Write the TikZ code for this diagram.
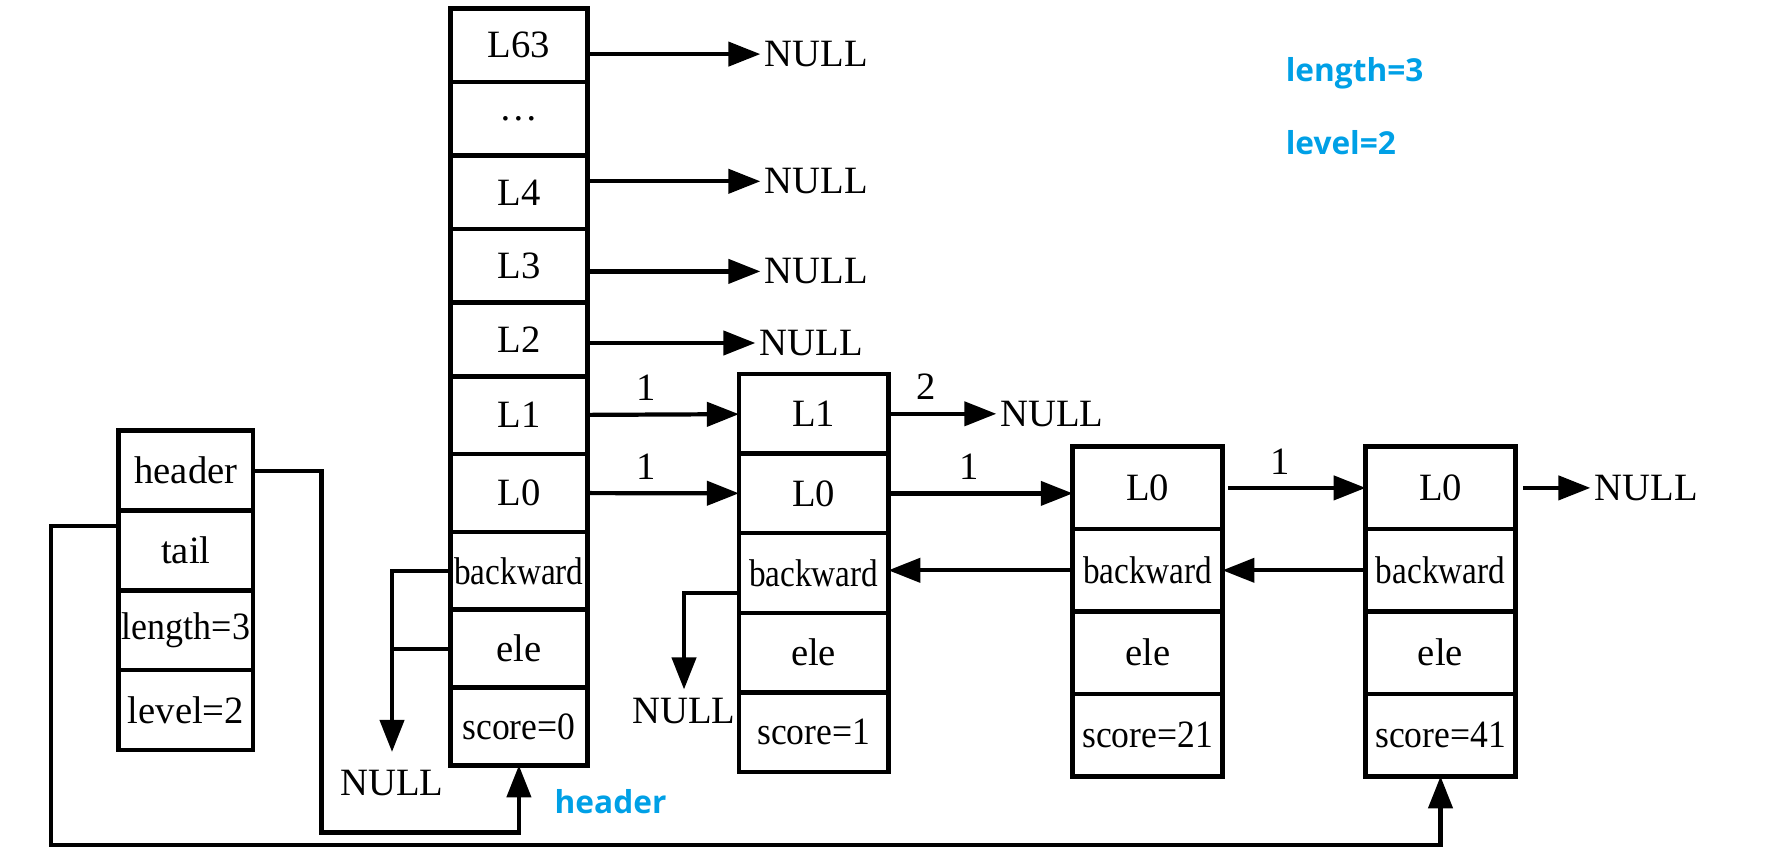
\documentclass[tikz,border=0pt]{standalone}
\usepackage{fontspec}
\usepackage{graphicx}
\setmainfont{Liberation Serif}
\newfontfamily\bluefont{Open Sans}
\usetikzlibrary{positioning, arrows.meta}
\definecolor{hlblue}{RGB}{0,160,230}
\newcommand{\squeeze}[2][0.92]{\scalebox{#1}[1]{#2}}
\tikzset{
  font={\fontsize{11pt}{13pt}\selectfont},
  cell/.style={draw, line width=1.3pt, outer sep=0pt, inner sep=0pt, align=center},
  zslcell/.style={cell, minimum width=13.45mm, minimum height=7.98mm},
  hdcell/.style={cell, minimum width=13.69mm, minimum height=7.36mm},
  hdlow/.style={cell, minimum width=13.69mm, minimum height=7.78mm},
  entcell/.style={cell, minimum width=14.94mm, minimum height=7.96mm},
  entlow/.style={cell, minimum width=14.97mm, minimum height=8.24mm},
  nil/.style={inner sep=1pt},
  ptr/.style={-{Triangle[length=3.2mm, width=2.4mm]}, line width=1.2pt},
  wire/.style={line width=1.2pt},
  note/.style={text=hlblue, font={\bluefont\bfseries\fontsize{9pt}{11pt}\selectfont}, inner sep=0pt}
}

\begin{document}
\begin{tikzpicture}
  \useasboundingbox (0,0) rectangle (17.88,-8.60);

  % zskiplist
  \node (zhead) [zslcell, anchor=north] at (1.859,-4.307) {header};
  \node (ztail) [zslcell, below=0pt of zhead] {tail};
  \node (zlen) [zslcell, below=0pt of ztail] {\squeeze[0.93]{length=3}};
  \node (zlvl) [zslcell, below=0pt of zlen] {level=2};

  % header node
  \node (hL63) [hdcell, anchor=north] at (5.189,-0.083) {L63};
  \node (hdots) [hdcell, below=0pt of hL63] {\dots};
  \node (hL4) [hdcell, below=0pt of hdots] {L4};
  \node (hL3) [hdcell, below=0pt of hL4] {L3};
  \node (hL2) [hdcell, below=0pt of hL3] {L2};
  \node (hL1) [hdlow, below=0pt of hL2] {L1};
  \node (hL0) [hdlow, below=0pt of hL1] {L0};
  \node (hbw) [hdlow, below=0pt of hL0] {\squeeze[0.86]{backward}};
  \node (hele) [hdlow, below=0pt of hbw] {ele};
  \node (hsc) [hdlow, below=0pt of hele] {\squeeze{score=0}};

  % score=1
  \node (aL1) [entcell, anchor=north] at (8.136,-3.740) {L1};
  \node (aL0) [entcell, below=0pt of aL1] {L0};
  \node (abw) [entcell, below=0pt of aL0] {\squeeze[0.86]{backward}};
  \node (aele) [entcell, below=0pt of abw] {ele};
  \node (asc) [entcell, below=0pt of aele] {\squeeze{score=1}};

  % score=21
  \node (bL0) [entlow, anchor=north] at (11.476,-4.467) {L0};
  \node (bbw) [entlow, below=0pt of bL0] {\squeeze[0.86]{backward}};
  \node (bele) [entlow, below=0pt of bbw] {ele};
  \node (bsc) [entlow, below=0pt of bele] {\squeeze{score=21}};

  % score=41
  \node (cL0) [entlow, anchor=north] at (14.405,-4.467) {L0};
  \node (cbw) [entlow, below=0pt of cL0] {\squeeze[0.86]{backward}};
  \node (cele) [entlow, below=0pt of cbw] {ele};
  \node (csc) [entlow, below=0pt of cele] {\squeeze{score=41}};

  % NULL ends
  \node (n63) [nil, right=17.3mm of hL63, yshift=-0.9mm] {NULL};
  \node (n4) [nil, right=17.3mm of hL4, yshift=1.1mm] {NULL};
  \node (n3) [nil, right=17.3mm of hL3, yshift=-0.55mm] {NULL};
  \node (n2) [nil, right=16.8mm of hL2, yshift=-0.35mm] {NULL};
  \node (naL1) [nil, right=10.8mm of aL1] {NULL};
  \node (ncL0) [nil, right=7.5mm of cL0] {NULL};
  \node (nhbw) [nil] at (3.92,-7.83) {NULL};
  \node (nabw) [nil] at (6.84,-7.115) {NULL};

  \coordinate (hturn) at (3.216,-8.324);
  \coordinate (tturn) at (0.513,-8.45);

  \node (blen) [note, anchor=base west] at (12.851,-0.817) {length=3};
  \node (blvl) [note, anchor=base west] at (12.851,-1.54) {level=2};
  \node (bhdr) [note, anchor=base west] at (5.54,-8.13) {header};

  \draw[ptr] (n63 -| hL63.east) -- (n63);
  \draw[ptr] (n4 -| hL4.east) -- (n4);
  \draw[ptr] (n3 -| hL3.east) -- (n3);
  \draw[ptr] (n2 -| hL2.east) -- (n2);
  \draw[ptr] (hL1) -- node[above, pos=0.39] {1} (aL1);
  \draw[ptr] (hL0) -- node[above, pos=0.39] {1} (aL0);
  \draw[ptr] (aL1) -- node[above, pos=0.35] {2} (naL1);
  \draw[ptr] (aL0.east) -- node[above, pos=0.44] {1} (aL0.east -| bL0.west);
  \draw[ptr, shorten <=0.6mm] (bL0) -- node[above, pos=0.40] {1} (cL0);
  \draw[ptr, shorten <=0.8mm] (cL0) -- (ncL0);
  \draw[ptr] (bbw.west) -- (bbw.west -| abw.east);
  \draw[ptr] (cbw.west) -- (cbw.west -| bbw.east);
  \draw[ptr, shorten >=0.5mm] (abw.195) -| (nabw);
  \draw[ptr, shorten >=1.4mm] (hbw.west) -| (nhbw);
  \draw[wire] (hele.west) -- (hele.west -| nhbw);
  \draw[ptr] (zhead.east) -| (hturn) -| (hsc);
  \draw[ptr] (ztail.160) -| (tturn) -| (csc);
\end{tikzpicture}
\end{document}
